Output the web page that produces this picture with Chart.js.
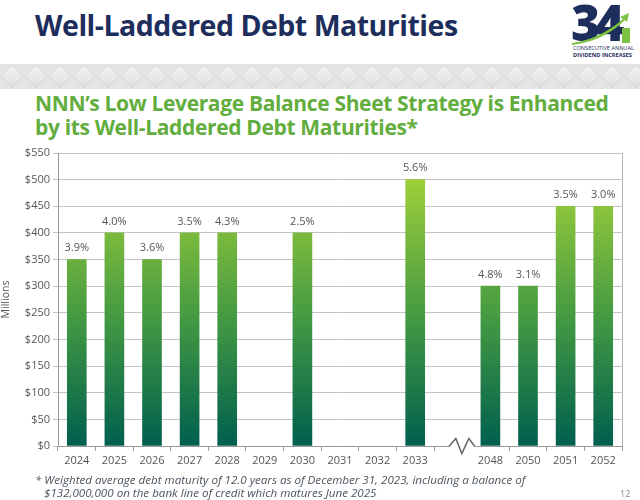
<!DOCTYPE html>
<html>
<head>
<meta charset="utf-8">
<script src="https://cdn.jsdelivr.net/npm/chart.js@4"></script>
<style>
  html,body{margin:0;padding:0;background:#fff;}
  body{width:640px;height:500px;position:relative;overflow:hidden;font-family:"Open Sans",sans-serif;}
  #title{position:absolute;left:35px;top:6px;font-family:"Open Sans";font-weight:700;font-size:28.5px;color:#1d2d5c;letter-spacing:-0.5px;white-space:nowrap;}
  #band{position:absolute;left:0;top:64px;width:640px;height:25px;}
  #sub{position:absolute;left:35px;top:91px;font-family:"Open Sans";font-weight:700;font-size:21px;line-height:24px;color:#62ad3e;letter-spacing:-0.35px;white-space:nowrap;}
  #logo{position:absolute;left:568px;top:0px;width:70px;height:60px;}
  #chartBox{position:absolute;left:0;top:140px;width:640px;height:335px;}
  #foot{position:absolute;left:35px;top:473px;font-family:"Open Sans";font-style:italic;font-size:11.6px;line-height:13px;color:#4a5560;white-space:nowrap;}
  #pg{position:absolute;left:620px;top:487px;font-family:"Open Sans";font-size:9px;color:#888;}
</style>
</head>
<body>
<div id="title">Well-Laddered Debt Maturities</div>
<svg id="logo" viewBox="0 0 70 60">
  <text x="3" y="41" font-family="Open Sans" font-weight="800" font-size="50" fill="#1d2d5c" letter-spacing="-5">34</text>
  <path d="M4 43 Q32 39 55 19 L52 17 L61 13 L59 22 L57 20 Q36 41 4 45 Z" fill="#7dc242"/>
  <rect x="54" y="28" width="8" height="15" fill="#7dc242"/>
  <text x="5" y="50" font-family="Open Sans" font-size="5.6" fill="#1d2d5c">CONSECUTIVE ANNUAL</text>
  <text x="5" y="57" font-family="Open Sans" font-weight="700" font-size="5.6" fill="#1d2d5c">DIVIDEND INCREASES</text>
</svg>
<svg id="band" width="640" height="25">
  <defs>
    <linearGradient id="dg" x1="0" y1="0" x2="0" y2="1">
      <stop offset="0" stop-color="#f4f4f4"/>
      <stop offset="1" stop-color="#dcdcdc"/>
    </linearGradient>
    <pattern id="dp" width="24" height="25" patternUnits="userSpaceOnUse">
      <rect width="24" height="25" fill="#e4e4e4"/>
      <path d="M12 1 L23 12.5 L12 24 L1 12.5 Z" fill="url(#dg)" stroke="#d2d2d2" stroke-width="0.8"/>
    </pattern>
  </defs>
  <rect width="640" height="25" fill="url(#dp)"/>
</svg>
<div id="sub">NNN’s Low Leverage Balance Sheet Strategy is Enhanced<br>by its Well-Laddered Debt Maturities*</div>
<div id="chartBox"><canvas id="c" width="640" height="335"></canvas></div>
<div id="foot">* Weighted average debt maturity of 12.0 years as of December 31, 2023, including a balance of<br>&nbsp;&nbsp;&nbsp;$132,000,000 on the bank line of credit which matures June 2025</div>
<div id="pg">12</div>
<script>
const categories = ["2024","2025","2026","2027","2028","2029","2030","2031","2032","2033","","2048","2050","2051","2052"];
const maturities = [350,400,350,400,400,null,400,null,null,500,null,300,300,450,450];
const rateLabels = ["3.9%","4.0%","3.6%","3.5%","4.3%","","2.5%","","","5.6%","","4.8%","3.1%","3.5%","3.0%"];
const breakIndex = 10;

const labelPlugin = {
  id:'labels',
  afterDatasetsDraw(chart){
    const ctx = chart.ctx;
    const meta = chart.getDatasetMeta(0);
    ctx.save();
    ctx.font = '11px "Open Sans"';
    ctx.fillStyle = '#555';
    ctx.textAlign = 'center';
    ctx.textBaseline = 'bottom';
    meta.data.forEach((bar,i)=>{
      if(rateLabels[i] && maturities[i]!=null) ctx.fillText(rateLabels[i], bar.x, bar.y - 6);
    });
    ctx.restore();
  }
};
const framePlugin = {
  id:'frame',
  afterDraw(chart){
    const ctx = chart.ctx, a = chart.chartArea, xs = chart.scales.x;
    ctx.save();
    ctx.strokeStyle = '#b5b5b5';
    ctx.lineWidth = 1;
    ctx.beginPath();
    ctx.moveTo(Math.round(a.right)+0.5, a.top);
    ctx.lineTo(Math.round(a.right)+0.5, a.bottom);
    ctx.stroke();
    // axis break zigzag, sitting slightly right of the empty slot's centre
    const step = xs.getPixelForValue(breakIndex+1) - xs.getPixelForValue(breakIndex);
    const cx = xs.getPixelForValue(breakIndex) + step*0.24;
    const y = Math.round(a.bottom)+0.5;
    ctx.fillStyle = '#fff';
    ctx.fillRect(cx-13, y-1, 26, 8);
    ctx.strokeStyle = '#666';
    ctx.lineWidth = 1.5;
    ctx.lineJoin = 'miter';
    ctx.beginPath();
    ctx.moveTo(cx-13, y);
    ctx.lineTo(cx-6, y-8);
    ctx.lineTo(cx, y+7);
    ctx.lineTo(cx+7, y-8);
    ctx.lineTo(cx+13, y);
    ctx.stroke();
    ctx.restore();
  }
};

const ctx = document.getElementById('c').getContext('2d');
new Chart(ctx, {
  type:'bar',
  data:{
    labels:categories,
    datasets:[{
      data:maturities,
      barThickness:19,
      backgroundColor:(c)=>{
        const a = c.chart.chartArea;
        if(!a) return '#6ab23c';
        const g = c.chart.ctx.createLinearGradient(0, a.bottom, 0, c.chart.scales.y.getPixelForValue(500));
        g.addColorStop(0,'#005f4e');
        g.addColorStop(0.45,'#3f9643');
        g.addColorStop(1,'#9dcf3a');
        return g;
      }
    }]
  },
  options:{
    responsive:false,
    animation:false,
    layout:{padding:{left:0,right:18,top:13,bottom:0}},
    plugins:{legend:{display:false},tooltip:{enabled:false}},
    scales:{
      x:{
        grid:{drawOnChartArea:false,drawTicks:true,tickLength:5,offset:true,color:'#999'},
        border:{color:'#999'},
        ticks:{font:{family:'Open Sans',size:11},color:'#555',padding:3,maxRotation:0,autoSkip:false},
        afterFit(s){s.height=29;}
      },
      y:{
        min:0,max:550,
        grid:{color:'#c4c4c4',tickLength:5},
        border:{color:'#999'},
        ticks:{stepSize:50,font:{family:'Open Sans',size:11},color:'#555',padding:3,
          callback:(v)=>'$'+v},
        title:{display:true,text:'Millions',font:{family:'Open Sans',size:10.5},color:'#555',padding:{top:0,bottom:2}},
        afterFit(s){s.width=58;}
      }
    }
  },
  plugins:[labelPlugin,framePlugin]
});
</script>
</body>
</html>
